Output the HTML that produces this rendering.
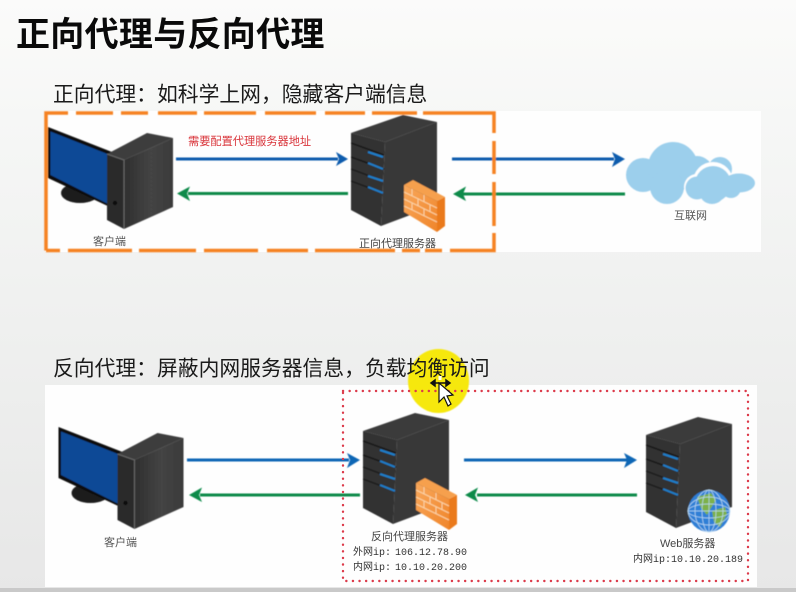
<!DOCTYPE html>
<html>
<head>
<meta charset="utf-8">
<style>
html,body{margin:0;padding:0;width:796px;height:592px;overflow:hidden;background:#eee}
svg{display:block;position:absolute;left:0;top:0}
text{font-family:"Liberation Sans","Noto Sans CJK SC",sans-serif}
text.m{font-family:"Liberation Mono","Noto Sans CJK SC",monospace}
</style>
</head>
<body>
<svg width="796" height="592" viewBox="0 0 796 592" xmlns="http://www.w3.org/2000/svg">
<defs>
<linearGradient id="bg" x1="0" y1="0" x2="0" y2="1">
<stop offset="0" stop-color="#fbfbfa"/><stop offset=".25" stop-color="#f5f6f5"/><stop offset=".55" stop-color="#eff0ef"/><stop offset="1" stop-color="#e7e7e7"/>
</linearGradient>
<linearGradient id="side" x1="0" y1="0" x2="1" y2="0"><stop offset="0" stop-color="#2f2f2f"/><stop offset=".55" stop-color="#444"/><stop offset="1" stop-color="#3a3a3a"/></linearGradient>
<linearGradient id="fw" x1="0" y1="0" x2="1" y2="1"><stop offset="0" stop-color="#f8a85c"/><stop offset="1" stop-color="#f0852a"/></linearGradient>
<filter id="b" x="-5%" y="-5%" width="110%" height="110%"><feGaussianBlur stdDeviation="0.5"/></filter>
<filter id="t" x="-5%" y="-20%" width="110%" height="140%"><feGaussianBlur stdDeviation="0.3"/></filter>

<g id="client">
<ellipse cx="80" cy="193" rx="19" ry="10" fill="#1c1c1c"/>
<polygon points="48,127 112,152 112,208 48,178" fill="#0c0c0c"/>
<polygon points="50.500,131.500 110,155 110,205 50.500,175" fill="#0a4a96"/>
<polygon points="107,154 147,133 173,138 124,160" fill="#3e3e3e"/>
<polygon points="107,154 124,160 124,229 107,220" fill="#2c2c2c"/>
<polygon points="124,160 173,138 173,207 124,229" fill="url(#side)"/>
<polyline points="107,154 124,160 124,229" fill="none" stroke="#6a6a6a" stroke-width="1"/>
<circle cx="115" cy="203" r="2.200" fill="#0e0e0e"/>
</g>

<g id="server">
<polygon points="351,133 403,115 437,122 385,142" fill="#3a3a3a"/>
<polygon points="351,133 385,142 381,226 351,210" fill="#303030"/>
<polygon points="385,142 437,122 437,205 381,226" fill="#393939"/>
<g stroke="#151515" stroke-width="1.200">
<line x1="351" y1="143" x2="384" y2="155"/>
<line x1="351" y1="157" x2="384" y2="169"/>
<line x1="351" y1="169" x2="383" y2="181"/>
<line x1="351" y1="181" x2="383" y2="193"/>
</g>
<g stroke="#1f7fcb" stroke-width="2">
<line x1="368" y1="152" x2="383" y2="157"/>
<line x1="368" y1="163" x2="383" y2="169"/>
<line x1="368" y1="176" x2="383" y2="181"/>
<line x1="368" y1="187" x2="383" y2="193"/>
</g>
</g>

<g id="firewall">
<polygon points="404,185 413,180 445,197 437,201" fill="#f6a04e"/>
<polygon points="404,185 437,201 437,232 404,212" fill="url(#fw)"/>
<polygon points="437,201 445,197 445,226 437,232" fill="#ea7a1c"/>
<g stroke="#fbd3a6" stroke-width="1" fill="none">
<line x1="404" y1="192" x2="437" y2="208"/>
<line x1="404" y1="199" x2="437" y2="215"/>
<line x1="404" y1="206" x2="437" y2="222"/>
<line x1="412" y1="189" x2="412" y2="196"/>
<line x1="424" y1="195" x2="424" y2="202"/>
<line x1="418" y1="199" x2="418" y2="206"/>
<line x1="430" y1="205" x2="430" y2="212"/>
<line x1="412" y1="203" x2="412" y2="210"/>
<line x1="424" y1="209" x2="424" y2="216"/>
</g>
</g>
</defs>

<rect width="796" height="592" fill="url(#bg)"/>
<rect x="0" y="588" width="796" height="4" fill="#c9c9c9"/>
<rect x="45" y="111" width="716" height="141" fill="#fefefe"/>
<rect x="45" y="385" width="712" height="202" fill="#fefefe"/>

<text x="16" y="46" font-size="34" font-weight="700" fill="#0a0a0a" letter-spacing="0.3">正向代理与反向代理</text>
<text x="53" y="101.500" font-size="20.800" fill="#1a1a1a">正向代理：如科学上网，隐藏客户端信息</text>

<ellipse cx="438.500" cy="381" rx="30.500" ry="32" fill="#f6e80c" filter="url(#b)"/>
<text x="53" y="375.500" font-size="20.800" fill="#1a1a1a">反向代理：屏蔽内网服务器信息，负载均衡访问</text>

<g filter="url(#b)">
<use href="#client"/>
<use href="#server"/>
<use href="#firewall"/>

<line x1="176" y1="159" x2="338" y2="159" stroke="#0b5cad" stroke-width="3"/>
<polygon points="336,152 348,159 336,166 339,159" fill="#0b5cad"/>
<line x1="188" y1="193.500" x2="348" y2="193.500" stroke="#0b8a4a" stroke-width="3"/>
<polygon points="190,186.500 177,193.500 190,201 187,193.500" fill="#0b8a4a"/>
<line x1="452" y1="159" x2="614" y2="159" stroke="#0b5cad" stroke-width="3"/>
<polygon points="612,152 625,159 612,167 615,159" fill="#0b5cad"/>
<line x1="463" y1="194" x2="625" y2="194" stroke="#0b8a4a" stroke-width="3"/>
<polygon points="466,186.500 453,194 466,201 463,194" fill="#0b8a4a"/>

<g stroke="#f58220" stroke-width="3.500" fill="none">
<path d="M46,250.500 V113 H68 M76,113 H113 M121,113 H148 M158,113 H197 M204,113 H256 M265,113 H316 M325,113 H365 M372,113 H417 M423,113 H494 V133 M494,141 V174 M494,182 V226 M494,233 V250.500 H450 M442,250.500 H425 M420,250.500 H402 M395,250.500 H315 M308,250.500 H267 M258,250.500 H204 M196,250.500 H139 M132,250.500 H68 M60,250.500 H46"/>
</g>

<g fill="#9ccfec">
<circle cx="643" cy="175" r="17"/>
<circle cx="673" cy="167" r="25"/>
<circle cx="667" cy="187" r="17"/>
<circle cx="697" cy="172" r="16"/>
<circle cx="720" cy="169" r="12"/>
</g>
<g fill="#fff">
<circle cx="697" cy="187" r="13"/>
<circle cx="713" cy="182" r="20"/>
</g>
<g fill="#9ccfec">
<circle cx="697" cy="188" r="11.500"/>
<circle cx="713" cy="184" r="18"/>
<circle cx="712" cy="191" r="13"/>
<circle cx="731" cy="188" r="10"/>
<ellipse cx="739" cy="183" rx="16" ry="9.500"/>
</g>

<use href="#client" transform="translate(10.500,300)"/>
<use href="#server" transform="translate(12,298)"/>
<use href="#firewall" transform="translate(12,298)"/>
<use href="#server" transform="translate(295,302)"/>

<line x1="187" y1="460" x2="349" y2="460" stroke="#0b66b5" stroke-width="3"/>
<polygon points="347,453 360,460 347,468 350,460" fill="#0b66b5"/>
<line x1="200" y1="495" x2="360" y2="495" stroke="#0b8a4a" stroke-width="3"/>
<polygon points="202,487.500 189,495 202,502 199,495" fill="#0b8a4a"/>
<line x1="464" y1="460" x2="627" y2="460" stroke="#0b66b5" stroke-width="3"/>
<polygon points="624,453 637,460 624,468 627,460" fill="#0b66b5"/>
<line x1="477" y1="495" x2="637" y2="495" stroke="#0b8a4a" stroke-width="3"/>
<polygon points="478,487.500 465,495 478,502 475,495" fill="#0b8a4a"/>

<circle cx="709" cy="511" r="21" fill="#2f7fd6"/>
<path d="M697,497 L711,493 L716,500 L711,508 L707,515 L701,508 Z M712,511 L725,507 L727,514 L720,527 L714,522 Z" fill="#7db14a"/>
<g stroke="#bcdcf5" stroke-width="0.700" fill="none">
<ellipse cx="709" cy="511" rx="21" ry="7"/>
<ellipse cx="709" cy="511" rx="21" ry="14"/>
<ellipse cx="709" cy="511" rx="7" ry="21"/>
<ellipse cx="709" cy="511" rx="14" ry="21"/>
<line x1="688" y1="511" x2="730" y2="511"/>
<line x1="709" y1="490" x2="709" y2="532"/>
</g>
</g>

<rect x="343" y="391" width="405" height="190" fill="none" stroke="#dc3a4a" stroke-width="2.400" stroke-linecap="round" stroke-dasharray="0.1,6.500"/>

<g filter="url(#t)">
<text x="188" y="145" font-size="11.200" fill="#d9343a">需要配置代理服务器地址</text>
<text x="93" y="245" font-size="11" fill="#555">客户端</text>
<text x="359" y="247" font-size="11" fill="#444">正向代理服务器</text>
<text x="674" y="219" font-size="11" fill="#555">互联网</text>
<text x="104" y="546" font-size="11" fill="#555">客户端</text>
<text x="371" y="540" font-size="11" fill="#444">反向代理服务器</text>
<text class="m" x="353" y="555" font-size="10" fill="#333">外网ip: <tspan x="395">106.12.78.90</tspan></text>
<text class="m" x="353" y="570" font-size="10" fill="#333">内网ip: <tspan x="395">10.10.20.200</tspan></text>
<text x="660" y="547" font-size="11" fill="#444">Web服务器</text>
<text class="m" x="633" y="562" font-size="10" fill="#333">内网ip:10.10.20.189</text>
</g>

<g>
<path d="M431,383 H450 M431,383 l4,-3 v6 z M450,383 l-4,-3 v6 z" stroke="#111" stroke-width="1.500" fill="#111"/>
<rect x="438.500" y="376" width="3" height="4" fill="#fff"/>
<polygon points="439,383 439,402 444,397 448,406 451,404 447,396 453,395" fill="#fff" stroke="#111" stroke-width="1.200"/>
</g>
</svg>
</body>
</html>
